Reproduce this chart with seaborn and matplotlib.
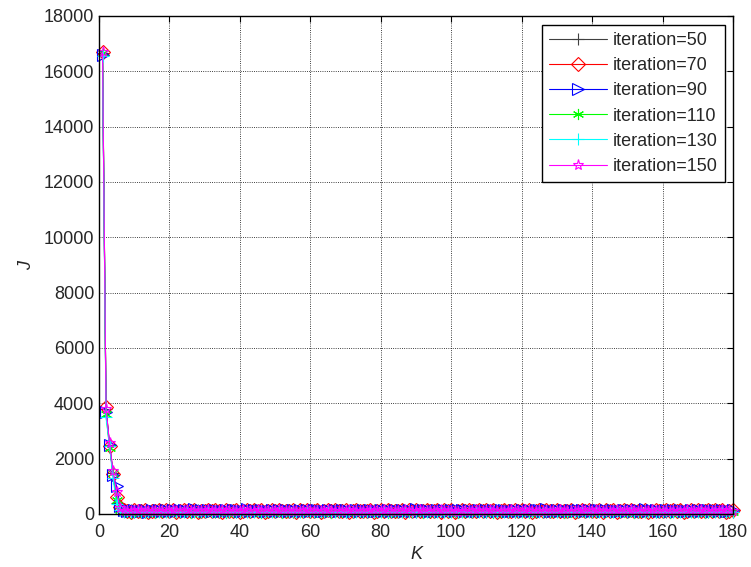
import numpy as np
import pandas as pd
import matplotlib
matplotlib.use('Agg')
import matplotlib.pyplot as plt
import seaborn as sns

sns.set_style('white')
plt.rcParams['font.family'] = ['Liberation Sans', 'DejaVu Sans']

K = list(range(1, 181))

# first few points of each run (K = 1..6)
head_50 = [16650, 3800, 2500, 1500, 400, 200]
head_70 = [16700, 3850, 2450, 1450, 600, 250]
head_90 = [16600, 3700, 2500, 1400, 1000, 300]
head_110 = [16650, 3600, 2400, 1500, 500, 150]
head_130 = [16550, 3500, 2450, 1300, 350, 150]
head_150 = [16700, 3800, 2550, 1550, 800, 200]

# flat noisy tail, K = 7..180
tail_50 = [112, 98, 135, 87, 120, 143, 76, 101, 129, 92, 158, 84, 117, 105, 139, 71, 126, 95, 148, 88, 110, 132, 79, 121, 99,
           137, 83, 114, 152, 90, 106, 128, 74, 119, 141, 96, 85, 133, 108, 77, 125, 146, 93, 102, 130, 81, 116, 138, 89, 111,
           127, 94, 140, 78, 109, 134, 86, 122, 100, 149, 91, 115, 136, 80, 104, 131, 97, 118, 144, 82, 107, 129, 95, 123, 88,
           139, 103, 75, 126, 147, 92, 113, 135, 84, 119, 101, 142, 87, 110, 132, 79, 124, 98, 150, 90, 116, 137, 83, 106, 128,
           94, 121, 145, 86, 112, 134, 78, 102, 127, 99, 140, 85, 117, 131, 93, 108, 146, 81, 120, 136, 89, 114, 103, 138, 76,
           125, 97, 143, 88, 111, 130, 84, 118, 100, 149, 92, 107, 133, 80, 122, 141, 95, 113, 87, 128, 104, 139, 82, 119, 96,
           135, 90, 115, 144, 79, 109, 126, 98, 137, 86, 121, 103, 147, 91, 112, 131, 85, 124, 100, 142, 94, 117, 138, 83]
tail_70 = [131, 104, 89, 146, 117, 95, 138, 82, 123, 109, 152, 91, 128, 100, 143, 86, 119, 135, 97, 112, 156, 88, 125, 107, 140,
           93, 130, 116, 84, 148, 102, 121, 137, 90, 113, 159, 96, 127, 105, 142, 87, 118, 134, 99, 150, 92, 124, 110, 145, 85,
           132, 101, 139, 94, 120, 155, 89, 114, 129, 106, 147, 97, 122, 136, 83, 111, 153, 93, 126, 103, 141, 88, 117, 133, 100,
           149, 95, 123, 108, 144, 86, 130, 115, 157, 91, 119, 137, 98, 112, 151, 90, 127, 104, 140, 87, 121, 135, 96, 146, 102,
           118, 154, 92, 129, 107, 143, 85, 124, 138, 99, 113, 150, 94, 131, 105, 147, 89, 120, 134, 101, 158, 93, 116, 141, 97,
           126, 110, 145, 88, 122, 136, 95, 152, 103, 119, 139, 90, 128, 106, 148, 84, 115, 133, 98, 144, 92, 125, 111, 156, 87,
           121, 137, 100, 114, 149, 94, 130, 108, 142, 89, 117, 135, 96, 153, 102, 123, 140, 91, 127, 105, 146, 86, 118, 132]
tail_90 = [140, 118, 96, 152, 125, 103, 147, 90, 133, 114, 160, 99, 136, 108, 149, 94, 127, 142, 105, 120, 163, 97, 131, 112, 145,
           101, 138, 123, 92, 155, 110, 129, 144, 98, 121, 165, 104, 134, 113, 150, 95, 126, 141, 107, 158, 100, 132, 117, 153, 93,
           139, 109, 146, 102, 128, 161, 97, 122, 137, 114, 154, 105, 130, 143, 91, 119, 159, 101, 134, 111, 148, 96, 125, 140, 108,
           156, 103, 131, 116, 151, 94, 137, 122, 164, 99, 127, 145, 106, 120, 158, 98, 135, 112, 147, 95, 129, 142, 104, 153, 110,
           126, 161, 100, 136, 115, 150, 93, 132, 146, 107, 121, 157, 102, 139, 113, 154, 97, 128, 141, 109, 166, 101, 124, 148, 105,
           133, 118, 152, 96, 130, 144, 103, 159, 111, 127, 147, 98, 136, 114, 155, 92, 123, 140, 106, 151, 100, 133, 119, 163, 95,
           129, 145, 108, 122, 156, 102, 138, 116, 149, 97, 125, 143, 104, 160, 110, 131, 148, 99, 135, 113, 153, 94, 126, 139]
tail_110 = [62, 85, 54, 73, 91, 58, 80, 67, 96, 51, 77, 88, 60, 71, 93, 56, 82, 65, 99, 53, 75, 87, 59, 70, 94,
            55, 83, 64, 97, 50, 78, 89, 61, 72, 92, 57, 81, 66, 98, 52, 76, 86, 63, 69, 95, 54, 84, 68, 90, 58,
            79, 61, 93, 56, 74, 88, 65, 71, 96, 53, 82, 60, 87, 67, 92, 55, 77, 89, 62, 70, 98, 57, 83, 64, 91,
            52, 78, 86, 59, 73, 95, 56, 81, 66, 99, 54, 76, 88, 61, 69, 93, 58, 84, 63, 90, 51, 79, 87, 60, 72,
            96, 55, 80, 65, 92, 53, 75, 89, 62, 70, 97, 57, 82, 67, 94, 54, 77, 85, 59, 73, 91, 56, 83, 64, 98,
            52, 78, 88, 61, 71, 95, 58, 81, 66, 90, 55, 76, 86, 63, 69, 93, 57, 84, 60, 97, 53, 79, 89, 62, 72,
            94, 56, 80, 65, 91, 54, 75, 87, 59, 70, 96, 58, 82, 67, 92, 52, 77, 85, 61, 73, 99, 55, 83, 64]
tail_130 = [70, 93, 61, 82, 99, 66, 88, 75, 104, 59, 85, 96, 68, 79, 101, 64, 90, 73, 107, 60, 83, 95, 67, 78, 102,
            63, 91, 72, 105, 58, 86, 97, 69, 80, 100, 65, 89, 74, 106, 61, 84, 94, 71, 77, 103, 62, 92, 76, 98, 66,
            87, 69, 101, 64, 82, 96, 73, 79, 104, 61, 90, 68, 95, 75, 100, 63, 85, 97, 70, 78, 106, 65, 91, 72, 99,
            60, 86, 94, 67, 81, 103, 64, 89, 74, 107, 62, 84, 96, 69, 77, 101, 66, 92, 71, 98, 59, 87, 95, 68, 80,
            104, 63, 88, 73, 100, 61, 83, 97, 70, 78, 105, 65, 90, 75, 102, 62, 85, 93, 67, 81, 99, 64, 91, 72, 106,
            60, 86, 96, 69, 79, 103, 66, 89, 74, 98, 63, 84, 94, 71, 77, 101, 65, 92, 68, 105, 61, 87, 97, 70, 80,
            102, 64, 88, 73, 99, 62, 83, 95, 67, 78, 104, 66, 90, 75, 100, 60, 85, 93, 69, 81, 107, 63, 91, 72]
tail_150 = [104, 121, 95, 113, 130, 99, 117, 108, 126, 92, 115, 124, 101, 110, 128, 97, 119, 106, 132, 94, 112, 123, 100, 109, 127,
            96, 120, 105, 131, 91, 116, 125, 102, 111, 129, 98, 118, 107, 133, 93, 114, 122, 103, 108, 130, 95, 121, 104, 126, 99,
            117, 101, 128, 96, 112, 124, 106, 110, 131, 92, 119, 100, 123, 107, 127, 94, 115, 125, 102, 109, 133, 97, 120, 105, 129,
            91, 116, 122, 98, 111, 130, 95, 118, 106, 134, 93, 113, 124, 101, 108, 128, 99, 121, 103, 126, 90, 117, 123, 100, 112,
            131, 96, 119, 104, 127, 94, 114, 125, 102, 109, 132, 98, 120, 107, 129, 93, 115, 121, 97, 111, 126, 95, 118, 105, 133,
            92, 116, 124, 101, 110, 130, 99, 117, 106, 127, 96, 113, 122, 103, 108, 128, 97, 121, 100, 132, 94, 119, 125, 102, 112,
            129, 95, 118, 104, 126, 93, 114, 123, 99, 109, 131, 98, 120, 107, 127, 91, 115, 122, 101, 111, 134, 96, 119, 105]

runs = ['iteration=50', 'iteration=70', 'iteration=90', 'iteration=110', 'iteration=130', 'iteration=150']
values = [head_50 + tail_50, head_70 + tail_70, head_90 + tail_90,
          head_110 + tail_110, head_130 + tail_130, head_150 + tail_150]
colors = ['#404040', 'red', 'blue', '#00ff00', '#00ffff', '#ff00ff']
markers = ['+', 'D', '>', (6, 2, 0), '+', '*']
msizes = [8, 7, 9, 8, 8, 8]

fig = plt.figure(figsize=(7.51, 5.67), dpi=100)
ax = fig.add_axes([99 / 751, 1 - 514 / 567, 634 / 751, 498 / 567])

for name, vals, c, m, s in zip(runs, values, colors, markers, msizes):
    df = pd.DataFrame({'K': K, 'J': vals})
    sns.lineplot(data=df, x='K', y='J', ax=ax, color=c, lw=0.8, marker=m,
                 ms=s, mfc='none', mec=c, mew=0.8, label=name, clip_on=False)

ax.set_xlim(0, 180)
ax.set_ylim(0, 18000)
ax.set_xticks(np.arange(0, 181, 20))
ax.set_yticks(np.arange(0, 18001, 2000))
ax.grid(True, color='black', linestyle=':', linewidth=0.6)
ax.tick_params(direction='in', top=True, right=True, labelsize=13, length=4, color='black')
ax.tick_params(axis='x', pad=7)
for sp in ax.spines.values():
    sp.set_color('black')
    sp.set_linewidth(1.0)
    sp.set_visible(True)
ax.set_xlabel('K', fontsize=13, style='italic', labelpad=4)
ax.set_ylabel('J', fontsize=13, style='italic', labelpad=6)

leg = ax.legend(loc='upper right', bbox_to_anchor=(1 - 8 / 634, 1 - 9 / 498), borderaxespad=0,
                fontsize=13, handlelength=3.2, handletextpad=0.35, labelspacing=0.45,
                fancybox=False, framealpha=1, edgecolor='black', borderpad=0.4)
leg.get_frame().set_linewidth(1.0)

fig.savefig('out.png', dpi=100)
